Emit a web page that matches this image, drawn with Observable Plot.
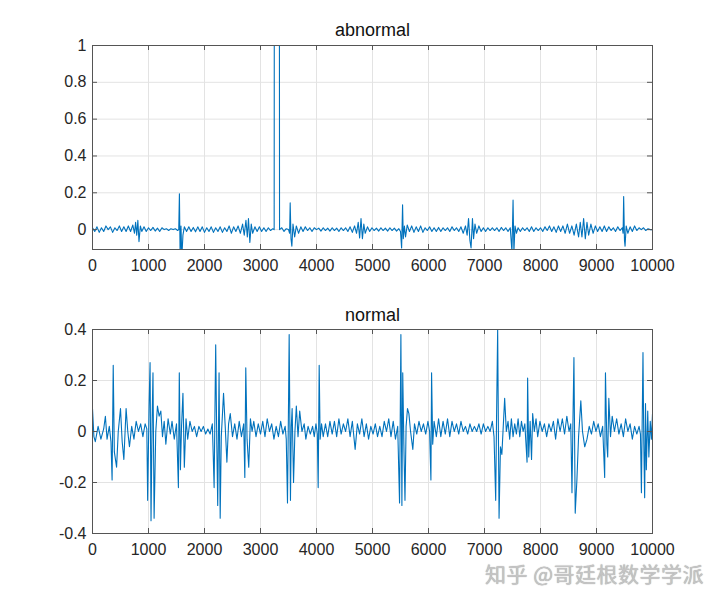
<!DOCTYPE html>
<html>
<head>
<meta charset="utf-8">
<script src="https://cdn.jsdelivr.net/npm/d3@7"></script>
<script src="https://cdn.jsdelivr.net/npm/@observablehq/plot@0.6"></script>
<style>
  html, body { margin: 0; padding: 0; background: #fff; }
  #wrap { position: relative; width: 720px; height: 599px; background: #fff; overflow: hidden; }
  #wrap svg { position: absolute; left: 0; }
  #wm { position: absolute; left: 485px; top: 563px; line-height: 20px; font-family: "Noto Sans CJK SC", sans-serif; font-size: 21px; color: #c4c4c4; white-space: nowrap; text-shadow: 0 0 1px #999; letter-spacing: 0.5px; }
</style>
</head>
<body>
<div id="wrap"><div id="wm">知乎 @哥廷根数学学派</div></div>
<script>
const xTicks = [0, 1000, 2000, 3000, 4000, 5000, 6000, 7000, 8000, 9000, 10000];
const abnormalYTicks = [0, 0.2, 0.4, 0.6, 0.8, 1];
const normalYTicks = [-0.4, -0.2, 0, 0.2, 0.4];
const titles = ["abnormal", "normal"];

// [sample index, value]
const abnormalSeries = [
[0,0.01],[40,-0.01],[80,0.015],[120,-0.015],[160,0.01],[200,-0.01],[240,0.02],[280,0],[320,0.015],[360,-0.015],
[400,0.01],[440,-0.005],[480,0.02],[520,-0.01],[560,0.015],[600,-0.01],[640,0.02],[680,-0.01],[720,0.025],[750,-0.02],
[770,0.04],[790,-0.03],[810,0.05],[830,-0.065],[855,0.02],[880,-0.01],[920,0.015],[960,-0.01],[1000,0.01],[1040,-0.005],
[1080,0.012],[1120,-0.008],[1160,0.008],[1200,-0.01],[1240,0.01],[1280,0],[1320,0.005],[1360,-0.005],[1400,0.005],[1440,0],
[1480,0.005],[1520,-0.005],[1540,0],[1552,0.195],[1565,-0.15],[1580,0.02],[1595,-0.15],[1615,-0.03],[1640,0.015],[1680,-0.01],
[1720,0.015],[1760,-0.01],[1800,0.012],[1840,-0.012],[1880,0.015],[1920,-0.01],[1960,0.015],[2000,-0.015],[2040,0.01],[2080,-0.01],
[2120,0.015],[2160,-0.015],[2200,0.01],[2240,-0.01],[2280,0.015],[2320,-0.015],[2360,0.01],[2400,-0.01],[2440,0.02],[2480,-0.02],
[2520,0.015],[2560,-0.01],[2600,0.02],[2640,-0.02],[2680,0.03],[2710,-0.03],[2740,0.05],[2765,-0.04],[2785,0.06],[2810,-0.07],
[2835,0.03],[2860,-0.02],[2900,0.015],[2940,-0.01],[2980,0.015],[3020,-0.01],[3060,0.01],[3100,-0.01],[3140,0.01],[3180,-0.005],
[3220,0.005],[3244,0],[3248,2.0],[3336,2.0],[3340,0],[3380,0.01],[3420,-0.01],[3460,0.005],[3500,0],[3520,-0.02],
[3530,0.145],[3545,-0.05],[3560,-0.09],[3580,0.03],[3610,-0.04],[3640,0.02],[3680,-0.02],[3720,0.015],[3760,-0.01],[3800,0.015],
[3840,-0.005],[3880,0.01],[3920,-0.01],[3960,0.01],[4000,0],[4040,0.008],[4080,-0.008],[4120,0.01],[4160,-0.005],[4200,0.008],
[4240,-0.008],[4280,0.01],[4320,-0.005],[4360,0.008],[4400,-0.01],[4440,0.01],[4480,-0.005],[4520,0.01],[4560,-0.01],[4600,0.015],
[4640,-0.015],[4680,0.02],[4715,-0.02],[4745,0.04],[4770,-0.045],[4795,0.06],[4820,-0.05],[4845,0.03],[4870,-0.02],[4910,0.015],
[4950,-0.01],[4990,0.01],[5030,-0.005],[5070,0.008],[5110,-0.008],[5150,0.01],[5190,-0.005],[5230,0.008],[5270,-0.008],[5310,0.01],
[5350,-0.005],[5390,0.008],[5430,-0.008],[5470,0.005],[5500,-0.01],[5520,-0.1],[5537,0.135],[5550,-0.05],[5570,0.02],[5590,-0.04],
[5620,0.025],[5660,-0.01],[5700,0.02],[5740,-0.015],[5780,0.015],[5820,-0.01],[5860,0.02],[5900,-0.015],[5940,0.01],[5980,-0.005],
[6020,0.015],[6060,-0.01],[6100,0.01],[6140,-0.01],[6180,0.012],[6220,-0.01],[6260,0.01],[6300,-0.005],[6340,0.01],[6380,-0.01],
[6420,0.015],[6460,-0.005],[6500,0.01],[6540,-0.01],[6580,0.015],[6620,-0.02],[6660,0.02],[6690,-0.03],[6715,0.06],[6740,-0.06],
[6760,-0.1],[6785,0.06],[6805,-0.05],[6830,0.03],[6860,-0.02],[6900,0.02],[6940,-0.01],[6980,0.01],[7020,-0.01],[7060,0.01],
[7100,-0.005],[7140,0.01],[7180,-0.005],[7220,0.01],[7260,-0.01],[7300,0.012],[7340,-0.005],[7380,0.01],[7420,-0.01],[7460,0.01],
[7490,-0.12],[7510,0.16],[7525,-0.12],[7545,0.02],[7570,-0.02],[7600,0.01],[7640,-0.01],[7680,0.01],[7720,-0.005],[7760,0.01],
[7800,-0.01],[7840,0.015],[7880,-0.01],[7920,0.01],[7960,-0.005],[8000,0.01],[8040,-0.01],[8080,0.015],[8120,-0.005],[8160,0.02],
[8200,-0.01],[8240,0.015],[8280,-0.015],[8320,0.02],[8360,-0.01],[8400,0.02],[8440,-0.02],[8480,0.03],[8520,-0.02],[8560,0.02],
[8600,-0.03],[8640,0.03],[8680,-0.04],[8710,0.04],[8740,-0.04],[8770,0.06],[8800,-0.05],[8830,0.04],[8860,-0.03],[8900,0.03],
[8940,-0.02],[8980,0.02],[9020,-0.01],[9060,0.015],[9100,-0.01],[9140,0.02],[9180,-0.01],[9220,0.015],[9260,-0.005],[9300,0.01],
[9340,-0.01],[9380,0.015],[9420,-0.005],[9460,0.01],[9475,-0.02],[9485,0.18],[9500,-0.06],[9510,-0.09],[9530,0.02],[9560,-0.02],
[9600,0.015],[9640,-0.01],[9680,0.02],[9720,-0.005],[9760,0.01],[9800,0],[9840,0.01],[9880,-0.005],[9920,0.005],[9960,0],[10000,0]
];

const normalSeries = [
[0,0.09],[25,-0.02],[50,-0.04],[100,0.02],[150,-0.03],[200,0.01],[230,0.06],[260,-0.03],[300,0.02],[330,-0.04],
[350,-0.19],[370,0.26],[390,-0.08],[430,-0.14],[460,0],[500,0.09],[530,-0.04],[560,-0.11],[600,0.09],[630,0],
[660,-0.06],[700,0.02],[740,-0.03],[780,0.04],[820,0],[860,0.03],[900,-0.02],[940,0.03],[970,0.01],[985,-0.27],
[1010,0.1],[1028,0.27],[1045,-0.35],[1065,0.05],[1080,0.23],[1100,-0.34],[1130,0],[1160,0.1],[1190,0.06],[1220,0.08],
[1250,-0.02],[1280,0.04],[1310,-0.05],[1350,0.05],[1390,-0.01],[1420,0.04],[1460,-0.03],[1500,0.03],[1534,-0.22],[1550,0.23],
[1570,-0.15],[1590,0.02],[1615,0.15],[1640,-0.14],[1670,0.05],[1700,-0.03],[1740,0.04],[1780,0],[1820,0.02],[1860,-0.02],
[1900,0.02],[1940,0],[1980,0.02],[2020,-0.01],[2060,0.01],[2100,-0.01],[2140,0.03],[2172,-0.22],[2185,0.05],[2200,0.34],
[2220,-0.05],[2236,-0.29],[2260,0.23],[2280,-0.34],[2300,-0.02],[2340,0.15],[2370,0.02],[2400,-0.12],[2430,0.03],[2460,0.07],
[2500,-0.02],[2540,0.03],[2580,-0.03],[2620,0.04],[2660,-0.02],[2700,0.03],[2720,-0.18],[2737,0.25],[2760,-0.03],[2790,-0.14],
[2820,0.05],[2850,0],[2880,0.04],[2920,-0.02],[2960,0.03],[3000,-0.01],[3040,0.04],[3080,-0.02],[3120,0.05],[3160,0],
[3200,0.03],[3240,-0.03],[3280,0.02],[3320,-0.02],[3360,0.04],[3400,-0.01],[3440,0.02],[3460,-0.03],[3482,-0.28],[3500,0.1],
[3512,0.38],[3535,-0.27],[3550,0.02],[3565,0.09],[3590,-0.2],[3615,0],[3640,0.1],[3670,-0.02],[3700,0.08],[3740,0],
[3780,0.03],[3810,-0.03],[3850,0.02],[3890,-0.01],[3930,0.02],[3960,-0.02],[3990,0.03],[4015,-0.01],[4030,-0.22],[4048,0.26],
[4065,-0.03],[4090,0.03],[4120,-0.02],[4160,0.03],[4200,-0.02],[4240,0.04],[4280,-0.01],[4320,0.04],[4360,-0.02],[4400,0.05],
[4440,-0.01],[4480,0.03],[4520,0],[4560,0.05],[4600,-0.02],[4640,0.04],[4690,-0.07],[4730,0.03],[4770,-0.01],[4810,0.05],
[4850,-0.02],[4890,0.03],[4930,-0.03],[4970,0.02],[5010,-0.01],[5050,0.03],[5090,-0.02],[5130,0.02],[5170,-0.02],[5210,0.04],
[5250,0],[5290,0.05],[5330,-0.02],[5370,0.04],[5410,-0.03],[5450,0.02],[5483,-0.28],[5495,0.05],[5507,0.38],[5525,-0.29],
[5540,0.23],[5560,-0.05],[5580,-0.27],[5600,0.02],[5625,0.09],[5650,0.07],[5680,0],[5720,-0.07],[5750,0.03],[5790,-0.01],
[5830,0.04],[5870,0],[5910,0.03],[5950,-0.01],[5990,0.04],[6020,0],[6043,-0.19],[6055,0.23],[6075,-0.05],[6100,0.04],
[6140,-0.02],[6180,0.05],[6220,-0.02],[6260,0.04],[6300,-0.01],[6340,0.05],[6380,-0.02],[6420,0.04],[6460,0],[6500,0.03],
[6540,-0.01],[6580,0.04],[6620,0],[6660,0.02],[6700,-0.01],[6740,0.03],[6780,0],[6820,0.02],[6860,0],[6900,0.03],
[6940,-0.01],[6980,0.03],[7020,0],[7060,0.02],[7100,0],[7140,0.04],[7170,-0.02],[7200,-0.27],[7215,0.05],[7235,0.4],
[7260,-0.34],[7285,-0.06],[7310,-0.09],[7335,0.02],[7360,0.13],[7390,0],[7420,0.04],[7450,-0.03],[7480,0.05],[7510,-0.02],
[7540,0.03],[7570,-0.01],[7600,0.05],[7630,-0.02],[7660,0.04],[7690,0],[7720,0.03],[7760,-0.12],[7770,0.21],[7790,-0.1],
[7815,0.04],[7840,-0.11],[7860,0.07],[7890,0],[7920,0.05],[7950,-0.02],[7990,0.04],[8030,0],[8070,0.03],[8110,-0.02],
[8150,0.03],[8190,0],[8230,0.04],[8270,-0.03],[8310,0.05],[8350,0],[8390,0.05],[8430,-0.01],[8470,0.06],[8510,0],
[8540,0.03],[8562,-0.24],[8580,0.05],[8597,0.29],[8620,-0.32],[8650,-0.19],[8680,-0.02],[8720,0.12],[8750,0],[8790,-0.06],
[8830,-0.03],[8870,0.02],[8910,-0.01],[8950,0.04],[8990,0],[9030,0.03],[9070,-0.02],[9110,0.02],[9146,-0.18],[9160,0.23],
[9185,-0.05],[9200,-0.1],[9220,0.13],[9250,-0.02],[9280,0.06],[9320,0],[9360,0.05],[9400,-0.01],[9440,0.03],[9480,-0.02],
[9520,0.05],[9560,0],[9600,0.03],[9640,-0.03],[9680,0.02],[9720,-0.01],[9760,0.02],[9785,-0.01],[9802,-0.24],[9815,0.02],
[9830,0.31],[9845,-0.05],[9860,-0.26],[9875,0.11],[9890,-0.15],[9915,0.08],[9935,-0.1],[9960,0.04],[9980,-0.03],[10000,0.07]
];

const FONT = '"Liberation Sans", Arial, Helvetica, sans-serif';
const ML = 92, MR = 68, MB = 36, W = 720;

function panel({series, yDomain, yTicks, title, height, marginTop, titleDy}) {
  const plotH = height - marginTop - MB;
  const plotW = W - ML - MR;
  const axisColor = "#555";
  const gridColor = "#e3e3e3";
  return Plot.plot({
    width: W, height,
    marginLeft: ML, marginRight: MR, marginTop, marginBottom: MB,
    x: {domain: [0, 10000]},
    y: {domain: yDomain},
    style: {fontFamily: FONT, fontSize: "16px", color: "#262626", background: "transparent", overflow: "visible"},
    marks: [
      Plot.ruleX(xTicks, {stroke: gridColor}),
      Plot.ruleY(yTicks, {stroke: gridColor}),
      Plot.line(series, {x: d => d[0], y: d => d[1], stroke: "#0072BD", strokeWidth: 1.1, clip: true}),
      Plot.frame({stroke: axisColor}),
      Plot.ruleX(xTicks, {stroke: axisColor, insetTop: plotH - 5}),
      Plot.ruleX(xTicks, {stroke: axisColor, insetBottom: plotH - 5}),
      Plot.ruleY(yTicks, {stroke: axisColor, insetRight: plotW - 5}),
      Plot.ruleY(yTicks, {stroke: axisColor, insetLeft: plotW - 5}),
      Plot.axisX(xTicks, {anchor: "bottom", tickSize: 0, tickPadding: 10, tickFormat: d => String(d), label: null, fontSize: 16}),
      Plot.axisY(yTicks, {anchor: "left", tickSize: 0, tickPadding: 6, tickFormat: d => String(d), label: null, fontSize: 16}),
      Plot.text([title], {frameAnchor: "top", lineAnchor: "bottom", dy: titleDy, fontSize: 18, fill: "#111"})
    ]
  });
}

const wrap = document.getElementById("wrap");
const top1 = panel({series: abnormalSeries, yDomain: [-0.108, 1], yTicks: abnormalYTicks, title: titles[0], height: 285, marginTop: 45, titleDy: -10});
top1.style.top = "0px";
const bot = panel({series: normalSeries, yDomain: [-0.4, 0.4], yTicks: normalYTicks, title: titles[1], height: 284, marginTop: 44, titleDy: -9});
bot.style.top = "285px";
wrap.insertBefore(top1, wrap.firstChild);
wrap.insertBefore(bot, wrap.firstChild.nextSibling);
</script>
</body>
</html>
